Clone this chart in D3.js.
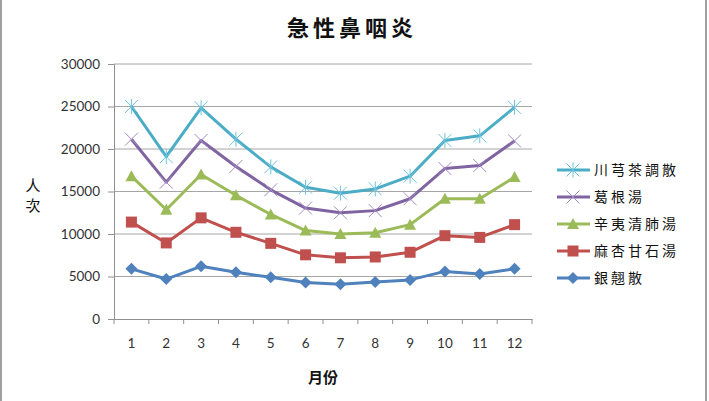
<!DOCTYPE html>
<html>
<head>
<meta charset="utf-8">
<script src="https://cdn.jsdelivr.net/npm/d3@7"></script>
<style>
  body { margin: 0; background: #fff; }
  svg { display: block; }
</style>
</head>
<body>
<svg id="chart" width="709" height="401"></svg>
<script>
// months on the x axis
var months = ["1", "2", "3", "4", "5", "6", "7", "8", "9", "10", "11", "12"];
var yTicks = [0, 5000, 10000, 15000, 20000, 25000, 30000];

// values (人次)
var chuanxiong = [25000, 19100, 24850, 21150, 17900, 15500, 14800, 15300, 16800, 21000, 21550, 24900];
var gegen = [21150, 16100, 21000, 17950, 15200, 13050, 12500, 12750, 14150, 17700, 18050, 20950];
var xinyi = [16800, 12850, 17000, 14550, 12300, 10400, 10000, 10150, 11100, 14150, 14150, 16700];
var maxing = [11400, 8950, 11900, 10200, 8900, 7550, 7200, 7300, 7850, 9800, 9600, 11100];
var yinqiao = [5900, 4700, 6200, 5500, 4900, 4300, 4100, 4350, 4600, 5600, 5300, 5900];

var seriesNames = ["川芎茶調散", "葛根湯", "辛夷清肺湯", "麻杏甘石湯", "銀翹散"];
var seriesData = [chuanxiong, gegen, xinyi, maxing, yinqiao];
var seriesColors = ["#4bacc6", "#8064a2", "#9bbb59", "#c0504d", "#4f81bd"];
var markerColors = ["#6cc3dc", "#a48cc4", "#9bbb59", "#c0504d", "#4f81bd"];
var seriesMarkers = ["star", "cross", "triangle", "square", "diamond"];

var svg = d3.select("#chart");
var margin = {left: 114, right: 177, top: 64, bottom: 82};
var width = 709 - margin.left - margin.right;
var height = 401 - margin.top - margin.bottom;

// outer frame edges
svg.append("line").attr("x1", 1).attr("x2", 1).attr("y1", 0).attr("y2", 401)
  .attr("stroke", "#a0a0a0").attr("stroke-width", 2);
svg.append("line").attr("x1", 706).attr("x2", 706).attr("y1", 0).attr("y2", 401)
  .attr("stroke", "#a0a0a0").attr("stroke-width", 2);

var g = svg.append("g").attr("transform", "translate(" + margin.left + "," + margin.top + ")");

var x = d3.scaleBand().domain(months).range([0, width]);
var y = d3.scaleLinear().domain([0, 30000]).range([height, 0]);

// gridlines
g.append("g")
  .selectAll("line")
  .data(yTicks.slice(1))
  .enter()
  .append("line")
    .attr("x1", 0).attr("x2", width)
    .attr("y1", function(d) { return y(d); })
    .attr("y2", function(d) { return y(d); })
    .attr("stroke", "#a6a6a6").attr("stroke-width", 1);

// y axis
var yAxis = g.append("g")
  .call(d3.axisLeft(y).tickValues(yTicks).tickSize(6).tickPadding(8).tickFormat(d3.format("d")));
yAxis.select(".domain").attr("stroke", "#909090");
yAxis.selectAll(".tick line").attr("stroke", "#909090");
yAxis.selectAll("text")
  .attr("font-family", "Lato, 'Open Sans', sans-serif")
  .attr("font-size", 13.5).attr("fill", "#333");

// x axis, ticks at band boundaries
var xAxis = g.append("g").attr("transform", "translate(0," + height + ")")
  .call(d3.axisBottom(x).tickSize(0).tickPadding(19));
xAxis.select(".domain").attr("stroke", "#909090");
xAxis.selectAll("text")
  .attr("font-family", "Lato, 'Open Sans', sans-serif")
  .attr("font-size", 13.5).attr("fill", "#333");
var bounds = months.map(function(m) { return x(m); }).concat([width]);
xAxis.selectAll(".bnd")
  .data(bounds)
  .enter()
  .append("line")
    .attr("class", "bnd")
    .attr("x1", function(d) { return d; }).attr("x2", function(d) { return d; })
    .attr("y1", 0).attr("y2", 5)
    .attr("stroke", "#909090");

function cx(i) { return x(months[i]) + x.bandwidth() / 2; }

function drawMarker(sel, type, color, px, py) {
  if (type == "star") {
    var s = 6.5;
    sel.append("path")
      .attr("d", "M" + (px - s) + "," + (py - s) + "L" + (px + s) + "," + (py + s) +
                 "M" + (px - s) + "," + (py + s) + "L" + (px + s) + "," + (py - s) +
                 "M" + px + "," + (py - s - 1) + "L" + px + "," + (py + s + 1))
      .attr("stroke", color).attr("stroke-width", 1).attr("fill", "none");
  } else if (type == "cross") {
    var c = 6.5;
    sel.append("path")
      .attr("d", "M" + (px - c) + "," + (py - c) + "L" + (px + c) + "," + (py + c) +
                 "M" + (px - c) + "," + (py + c) + "L" + (px + c) + "," + (py - c))
      .attr("stroke", color).attr("stroke-width", 1).attr("fill", "none");
  } else if (type == "triangle") {
    sel.append("path")
      .attr("d", "M" + px + "," + (py - 6) + "L" + (px + 6) + "," + (py + 5) + "L" + (px - 6) + "," + (py + 5) + "Z")
      .attr("fill", color);
  } else if (type == "square") {
    sel.append("rect")
      .attr("x", px - 5.5).attr("y", py - 5.5).attr("width", 11).attr("height", 11)
      .attr("fill", color);
  } else if (type == "diamond") {
    sel.append("path")
      .attr("d", "M" + px + "," + (py - 6) + "L" + (px + 6) + "," + py + "L" + px + "," + (py + 6) + "L" + (px - 6) + "," + py + "Z")
      .attr("fill", color);
  }
}

var line = d3.line()
  .x(function(d, i) { return cx(i); })
  .y(function(d) { return y(d); });

// draw from bottom series up so that top ones sit over
for (var k = seriesData.length - 1; k >= 0; k--) {
  var sg = g.append("g");
  sg.append("path")
    .datum(seriesData[k])
    .attr("d", line)
    .attr("fill", "none")
    .attr("stroke", seriesColors[k])
    .attr("stroke-width", 3)
    .attr("stroke-linejoin", "round");
  seriesData[k].forEach(function(v, i) {
    drawMarker(sg, seriesMarkers[k], markerColors[k], cx(i), y(v));
  });
}

// title
svg.append("text")
  .attr("x", 352).attr("y", 36)
  .attr("text-anchor", "middle")
  .attr("font-family", "'Noto Sans CJK TC', sans-serif")
  .attr("font-weight", 700)
  .attr("font-size", 22)
  .attr("letter-spacing", 4)
  .attr("fill", "#111")
  .text("急性鼻咽炎");

// Y label, stacked vertically
["人", "次"].forEach(function(ch, i) {
  svg.append("text")
    .attr("x", 33).attr("y", 191 + i * 20)
    .attr("text-anchor", "middle")
    .attr("font-family", "'Noto Sans CJK TC', sans-serif")
    .attr("font-size", 15)
    .attr("fill", "#111")
    .text(ch);
});

// X label
svg.append("text")
  .attr("x", 323).attr("y", 383)
  .attr("text-anchor", "middle")
  .attr("font-family", "'Noto Sans CJK TC', sans-serif")
  .attr("font-weight", 700)
  .attr("font-size", 15)
  .attr("fill", "#111")
  .text("月份");

// legend
var legend = svg.append("g");
seriesNames.forEach(function(name, k) {
  var ly = 170 + k * 27;
  var lg = legend.append("g");
  lg.append("line")
    .attr("x1", 557).attr("x2", 590).attr("y1", ly).attr("y2", ly)
    .attr("stroke", seriesColors[k]).attr("stroke-width", 3);
  drawMarker(lg, seriesMarkers[k], markerColors[k], 573, ly);
  lg.append("text")
    .attr("x", 594).attr("y", ly + 5)
    .attr("font-family", "'Noto Sans CJK TC', sans-serif")
    .attr("font-size", 14)
    .attr("letter-spacing", 3)
    .attr("fill", "#111")
    .text(name);
});
</script>
</body>
</html>
